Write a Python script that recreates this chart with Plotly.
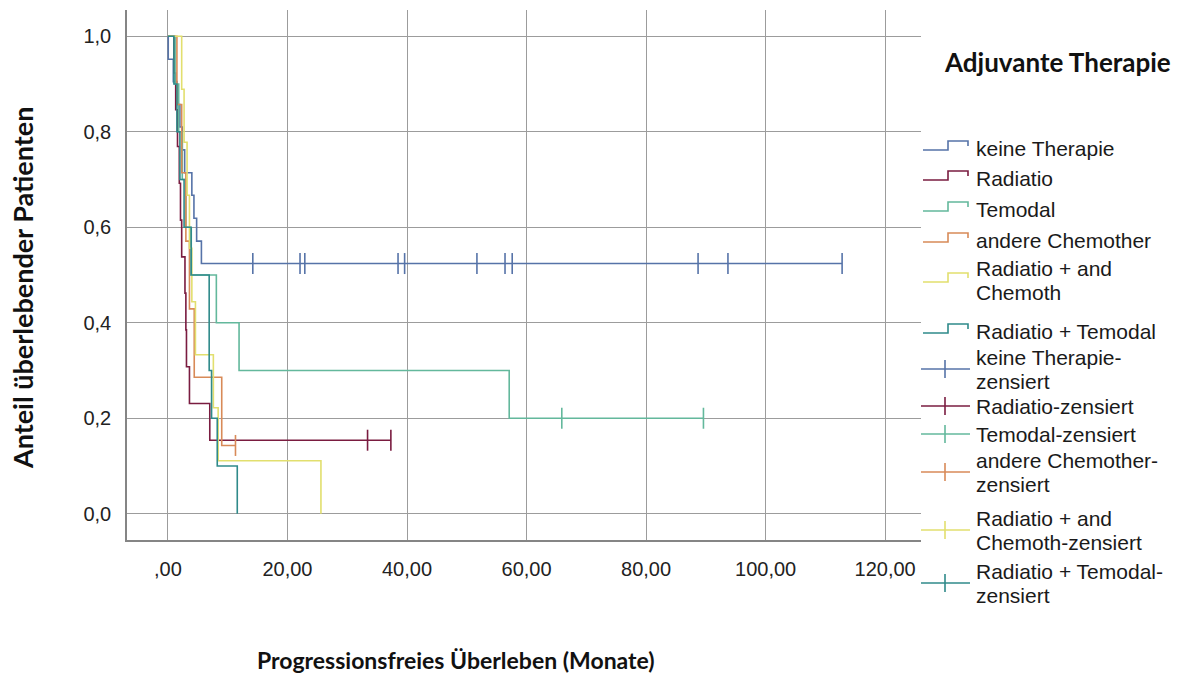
import plotly.graph_objects as go

# Kaplan-Meier-Schätzer: progressionsfreies Überleben nach adjuvanter Therapie
gruppen = ["keine Therapie", "Radiatio", "Temodal", "andere Chemother",
           "Radiatio + and Chemoth", "Radiatio + Temodal"]
farben = ["#5673a8", "#7a1c40", "#63b89c", "#d88a58", "#e2df6e", "#2f8a8a"]

# Stufen (Zeitpunkt in Monaten, Anteil ab diesem Zeitpunkt)
keine_zeit = [0, 0.05, 0.9, 1.5, 2.0, 2.4, 2.8, 4.0, 4.35, 4.8, 5.6]
keine_anteil = [1.0, 0.952, 0.905, 0.857, 0.810, 0.762, 0.714, 0.667, 0.619, 0.571, 0.524]
keine_zensiert = [14.2, 22.1, 22.9, 38.5, 39.6, 51.7, 56.4, 57.6, 88.7, 93.7, 112.8]

radio_zeit = [0, 1.0, 1.3, 1.6, 1.9, 2.1, 2.3, 2.85, 3.0, 3.1, 3.6, 7.0]
radio_anteil = [1.0, 0.923, 0.846, 0.769, 0.692, 0.615, 0.538, 0.462, 0.385, 0.308, 0.231, 0.154]
radio_zensiert = [33.4, 37.3]

temo_zeit = [0, 1.2, 1.8, 2.4, 3.0, 3.7, 8.1, 11.9, 57.1]
temo_anteil = [1.0, 0.9, 0.8, 0.7, 0.6, 0.5, 0.4, 0.3, 0.2]
temo_zensiert = [65.9, 89.6]

chemo_zeit = [0, 1.5, 2.3, 3.0, 3.6, 4.4, 9.0]
chemo_anteil = [1.0, 0.857, 0.714, 0.571, 0.429, 0.286, 0.143]
chemo_zensiert = [11.3]

rc_zeit = [0, 2.3, 2.7, 3.2, 3.6, 4.0, 4.6, 7.6, 8.4, 25.6]
rc_anteil = [1.0, 0.889, 0.778, 0.667, 0.556, 0.444, 0.333, 0.222, 0.111, 0.0]
rc_zensiert = []

rt_zeit = [0, 1.0, 1.5, 2.0, 2.7, 3.9, 6.9, 7.3, 8.25, 11.6]
rt_anteil = [1.0, 0.9, 0.8, 0.7, 0.6, 0.5, 0.3, 0.2, 0.1, 0.0]
rt_zensiert = []

x_ticks = [0, 20, 40, 60, 80, 100, 120]
x_ticktext = [",00", "20,00", "40,00", "60,00", "80,00", "100,00", "120,00"]
y_ticks = [0.0, 0.2, 0.4, 0.6, 0.8, 1.0]
y_ticktext = ["0,0", "0,2", "0,4", "0,6", "0,8", "1,0"]

kurven = [
    (keine_zeit, keine_anteil, keine_zensiert),
    (radio_zeit, radio_anteil, radio_zensiert),
    (temo_zeit, temo_anteil, temo_zensiert),
    (chemo_zeit, chemo_anteil, chemo_zensiert),
    (rc_zeit, rc_anteil, rc_zensiert),
    (rt_zeit, rt_anteil, rt_zensiert),
]


def anteil_bei(zeit, anteil, t):
    wert = anteil[0]
    for z, a in zip(zeit, anteil):
        if z <= t:
            wert = a
    return wert


fig = go.Figure()

for (zeit, anteil, zens), farbe, name in zip(kurven, farben, gruppen):
    xs = list(zeit)
    ys = list(anteil)
    if zens and max(zens) > xs[-1]:
        xs.append(max(zens))
        ys.append(ys[-1])
    fig.add_trace(go.Scatter(
        x=xs, y=ys, mode="lines", line=dict(color=farbe, width=1.6, shape="hv"),
        name=name, showlegend=False, hoverinfo="skip"))

for (zeit, anteil, zens), farbe, name in zip(kurven, farben, gruppen):
    if not zens:
        continue
    fig.add_trace(go.Scatter(
        x=zens, y=[anteil_bei(zeit, anteil, t) for t in zens], mode="markers",
        marker=dict(symbol="line-ns-open", size=15, color=farbe,
                    line=dict(color=farbe, width=1.6)),
        name=name + "-zensiert", showlegend=False, hoverinfo="skip"))

# Plotbereich in Pixeln
W, H = 1197, 675
L, R, T, B = 127, 921, 10, 540


def px_x(p):
    return (p - L) / (R - L)


def px_y(p):
    return (B - p) / (B - T)


# Legende mit Stufen- bzw. Kreuzsymbolen (Pixelzeile der ersten Textzeile)
legende = [
    (["keine Therapie"], 0, "stufe", 148),
    (["Radiatio"], 1, "stufe", 178),
    (["Temodal"], 2, "stufe", 209),
    (["andere Chemother"], 3, "stufe", 240),
    (["Radiatio + and", "Chemoth"], 4, "stufe", 268),
    (["Radiatio + Temodal"], 5, "stufe", 331),
    (["keine Therapie-", "zensiert"], 0, "kreuz", 357),
    (["Radiatio-zensiert"], 1, "kreuz", 406),
    (["Temodal-zensiert"], 2, "kreuz", 434),
    (["andere Chemother-", "zensiert"], 3, "kreuz", 460),
    (["Radiatio + and", "Chemoth-zensiert"], 4, "kreuz", 518),
    (["Radiatio + Temodal-", "zensiert"], 5, "kreuz", 571),
]
zeilenabstand = 24
shapes = []
annotations = []
for zeilen, idx, art, y0 in legende:
    for k, z in enumerate(zeilen):
        annotations.append(dict(
            x=px_x(974), y=px_y(y0 + k * zeilenabstand), xref="paper", yref="paper",
            text=z, showarrow=False, xanchor="left", yanchor="middle",
            font=dict(family="Liberation Sans, Arial", size=21, color="#1a1a1a")))
    ym = y0 + (len(zeilen) - 1) * zeilenabstand / 2
    if art == "stufe":
        pfad = "M {:.5f},{:.5f} L {:.5f},{:.5f} L {:.5f},{:.5f} L {:.5f},{:.5f} L {:.5f},{:.5f}".format(
            px_x(923), px_y(ym + 2), px_x(948), px_y(ym + 2), px_x(948), px_y(ym - 7),
            px_x(968), px_y(ym - 7), px_x(968), px_y(ym - 2))
        shapes.append(dict(type="path", path=pfad, xref="paper", yref="paper",
                           line=dict(color=farben[idx], width=1.6)))
    else:
        shapes.append(dict(type="line", xref="paper", yref="paper",
                           x0=px_x(921), x1=px_x(970), y0=px_y(ym), y1=px_y(ym),
                           line=dict(color=farben[idx], width=1.6)))
        shapes.append(dict(type="line", xref="paper", yref="paper",
                           x0=px_x(945), x1=px_x(945), y0=px_y(ym - 9), y1=px_y(ym + 9),
                           line=dict(color=farben[idx], width=1.6)))

titel_font = dict(family="Lato, Open Sans", color="#111111")
annotations.append(dict(
    x=px_x(1057), y=px_y(62), xref="paper", yref="paper", text="<b>Adjuvante Therapie</b>",
    showarrow=False, xanchor="center", yanchor="middle", font=dict(size=26, **titel_font)))
annotations.append(dict(
    x=px_x(456), y=px_y(660), xref="paper", yref="paper",
    text="<b>Progressionsfreies Überleben (Monate)</b>",
    showarrow=False, xanchor="center", yanchor="middle", font=dict(size=23, **titel_font)))
annotations.append(dict(
    x=px_x(22), y=px_y(288), xref="paper", yref="paper",
    text="<b>Anteil überlebender Patienten</b>", textangle=-90,
    showarrow=False, xanchor="center", yanchor="middle", font=dict(size=27, **titel_font)))

achse = dict(showgrid=True, gridcolor="#9c9c9c", gridwidth=1, zeroline=False,
             showline=True, linecolor="#858585", linewidth=1.5, ticks="",
             tickfont=dict(family="Liberation Sans, Arial", size=20, color="#222222"))

fig.update_layout(
    width=W, height=H,
    margin=dict(l=L, r=W - R, t=T, b=H - B),
    paper_bgcolor="white", plot_bgcolor="white",
    xaxis=dict(range=[-6.85, 126.0], tickvals=x_ticks, ticktext=x_ticktext,
               ticklabelstandoff=10, **achse),
    yaxis=dict(range=[-0.055, 1.055], tickvals=y_ticks, ticktext=y_ticktext,
               ticklabelstandoff=10, **achse),
    shapes=shapes, annotations=annotations, showlegend=False,
)

fig.write_html("out.html")
